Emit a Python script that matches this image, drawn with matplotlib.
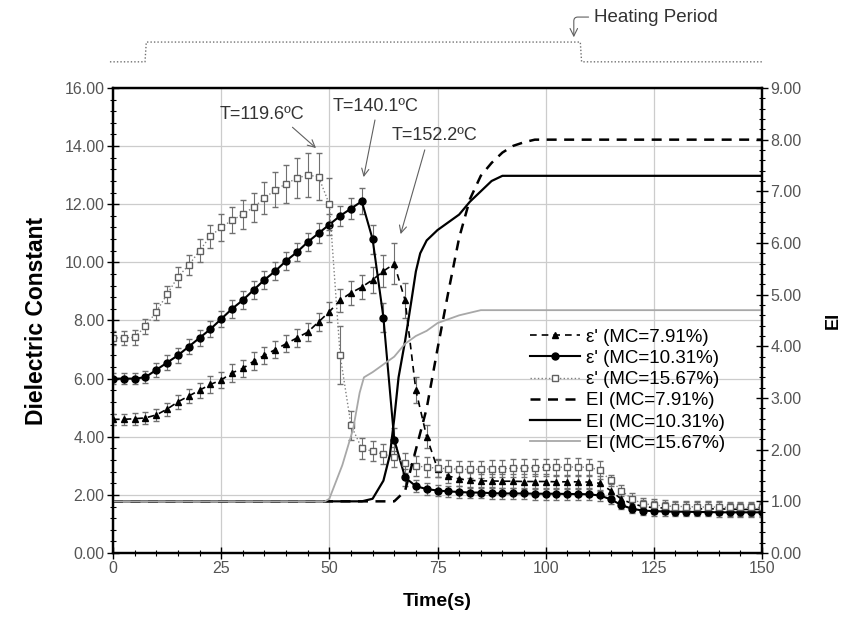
import numpy as np
import matplotlib
matplotlib.use("Agg")
import matplotlib.pyplot as plt
from matplotlib.ticker import MultipleLocator, FormatStrFormatter

plt.rcParams['font.family'] = ['Liberation Sans', 'DejaVu Sans']

# sampling times of the dielectric constant readings (s)
time = np.arange(0, 150.1, 2.5)

eps_791 = [4.60, 4.60, 4.62, 4.65, 4.75, 4.95, 5.20, 5.40, 5.60, 5.80,
           5.95, 6.20, 6.35, 6.60, 6.80, 7.00, 7.20, 7.40, 7.60, 7.95,
           8.30, 8.70, 8.95, 9.15, 9.40, 9.70, 9.95, 8.70, 5.60, 4.00,
           2.90, 2.65, 2.55, 2.50, 2.48, 2.48, 2.47, 2.47, 2.46, 2.46,
           2.46, 2.45, 2.45, 2.45, 2.44, 2.40, 2.15, 1.85, 1.70, 1.60,
           1.56, 1.55, 1.54, 1.53, 1.52, 1.52, 1.52, 1.51, 1.50, 1.50, 1.50]
err_791 = [0.20, 0.20, 0.20, 0.20, 0.22, 0.22, 0.25, 0.25, 0.25, 0.28,
           0.28, 0.30, 0.30, 0.30, 0.30, 0.30, 0.30, 0.30, 0.30, 0.32,
           0.35, 0.40, 0.40, 0.40, 0.45, 0.55, 0.70, 0.60, 0.45, 0.40,
           0.30, 0.25, 0.25, 0.25, 0.25, 0.25, 0.25, 0.25, 0.25, 0.25,
           0.25, 0.25, 0.25, 0.25, 0.25, 0.25, 0.22, 0.22, 0.22, 0.22,
           0.22, 0.22, 0.22, 0.22, 0.22, 0.22, 0.22, 0.22, 0.22, 0.22, 0.22]

eps_1031 = [6.00, 6.00, 6.00, 6.05, 6.30, 6.55, 6.80, 7.10, 7.40, 7.70,
            8.05, 8.40, 8.70, 9.05, 9.40, 9.70, 10.05, 10.35, 10.70, 11.00,
            11.30, 11.60, 11.85, 12.10, 10.80, 8.10, 3.90, 2.60, 2.30, 2.20,
            2.15, 2.12, 2.10, 2.08, 2.08, 2.06, 2.05, 2.05, 2.05, 2.04,
            2.04, 2.04, 2.03, 2.03, 2.02, 1.98, 1.85, 1.65, 1.52, 1.46,
            1.44, 1.43, 1.42, 1.42, 1.41, 1.41, 1.40, 1.40, 1.40, 1.40, 1.40]
err_1031 = [0.20, 0.20, 0.20, 0.20, 0.25, 0.25, 0.25, 0.25, 0.28, 0.28,
            0.28, 0.30, 0.30, 0.30, 0.30, 0.30, 0.32, 0.32, 0.32, 0.35,
            0.35, 0.35, 0.35, 0.45, 0.50, 0.50, 0.40, 0.30, 0.20, 0.20,
            0.20, 0.20, 0.20, 0.20, 0.20, 0.20, 0.20, 0.20, 0.20, 0.20,
            0.20, 0.20, 0.20, 0.20, 0.20, 0.20, 0.15, 0.15, 0.15, 0.15,
            0.15, 0.15, 0.15, 0.15, 0.15, 0.15, 0.15, 0.15, 0.15, 0.15, 0.15]

eps_1567 = [7.40, 7.40, 7.42, 7.80, 8.30, 8.90, 9.50, 9.90, 10.40, 10.90,
            11.20, 11.45, 11.65, 11.90, 12.20, 12.50, 12.70, 12.90, 13.00, 12.95,
            12.00, 6.80, 4.40, 3.60, 3.50, 3.40, 3.30, 3.10, 3.00, 2.95,
            2.92, 2.90, 2.88, 2.88, 2.88, 2.90, 2.90, 2.92, 2.92, 2.94,
            2.95, 2.95, 2.96, 2.96, 2.95, 2.85, 2.50, 2.15, 1.85, 1.70,
            1.65, 1.62, 1.60, 1.60, 1.58, 1.58, 1.58, 1.57, 1.57, 1.57, 1.57]
err_1567 = [0.25, 0.25, 0.25, 0.25, 0.30, 0.30, 0.35, 0.35, 0.40, 0.40,
            0.45, 0.45, 0.50, 0.50, 0.55, 0.60, 0.65, 0.70, 0.75, 0.80,
            0.90, 1.00, 0.50, 0.35, 0.35, 0.35, 0.35, 0.35, 0.35, 0.35,
            0.30, 0.30, 0.30, 0.30, 0.30, 0.30, 0.30, 0.30, 0.30, 0.30,
            0.30, 0.30, 0.30, 0.30, 0.30, 0.30, 0.20, 0.20, 0.20, 0.20,
            0.20, 0.20, 0.20, 0.20, 0.20, 0.20, 0.20, 0.20, 0.20, 0.20, 0.20]

# EI curves (right axis)
t_ei_791 = [0, 65, 67.5, 70, 72.5, 75, 77.5, 80, 82.5, 85, 87.5, 90, 92.5, 95, 97.5, 150]
ei_791 = [1.0, 1.0, 1.2, 2.0, 2.8, 3.95, 5.05, 6.1, 6.85, 7.3, 7.55, 7.75, 7.88, 7.95, 8.0, 8.0]

t_ei_1031 = [0, 57.5, 60, 62.5, 64, 65, 66, 67.5, 69, 70, 71, 72.5, 75, 77.5, 80, 82.5, 85, 87.5, 90, 150]
ei_1031 = [1.0, 1.0, 1.05, 1.4, 1.9, 2.6, 3.4, 4.1, 4.9, 5.45, 5.8, 6.05, 6.25, 6.4, 6.55, 6.8, 7.0, 7.2, 7.3, 7.3]

t_ei_1567 = [0, 49, 50, 53, 55.5, 57, 58, 60, 62.5, 65, 67.5, 70, 72.5, 75, 80, 85, 150]
ei_1567 = [1.0, 1.0, 1.05, 1.7, 2.4, 3.1, 3.4, 3.5, 3.65, 3.8, 4.05, 4.2, 4.3, 4.45, 4.6, 4.7, 4.7]

# heating on/off indicator drawn above the frame
t_heat = [-0.7, 7.4, 7.7, 108.0, 108.3, 150.2]
lvl_heat = [16.9, 16.9, 17.58, 17.58, 16.9, 16.9]

labels = ["\u03b5' (MC=7.91%)", "\u03b5' (MC=10.31%)", "\u03b5' (MC=15.67%)",
          "EI (MC=7.91%)", "EI (MC=10.31%)", "EI (MC=15.67%)"]

fig = plt.figure(figsize=(8.52, 6.28), dpi=100)
ax = fig.add_axes([0.1326, 0.1194, 0.7618, 0.7405])
ax2 = ax.twinx()

ecol = '#707070'
e1 = ax.errorbar(time, eps_791, yerr=err_791, fmt='^--', color='black', ms=5,
                 lw=1.2, dashes=(4, 3), ecolor=ecol, elinewidth=0.8, capsize=2.5, zorder=4)
e2 = ax.errorbar(time, eps_1031, yerr=err_1031, fmt='o-', color='black', ms=5,
                 lw=1.5, ecolor=ecol, elinewidth=0.8, capsize=2.5, zorder=4)
e3 = ax.errorbar(time, eps_1567, yerr=err_1567, fmt='s:', color='#808080', ms=5,
                 mfc='white', mec='#606060', lw=1.0, ecolor=ecol, elinewidth=0.8,
                 capsize=2.5, zorder=4)

l4, = ax2.plot(t_ei_791, ei_791, color='black', lw=1.8, ls=(0, (4, 3)))
l5, = ax2.plot(t_ei_1031, ei_1031, color='black', lw=1.6)
l6, = ax2.plot(t_ei_1567, ei_1567, color='#a8a8a8', lw=1.3)

ax.plot(t_heat, lvl_heat, color='#707070', lw=1.0, ls=(0, (1, 1.5)), clip_on=False)

ax.set_xlim(0, 150)
ax.set_ylim(0, 16)
ax2.set_ylim(0, 9)
ax.xaxis.set_major_locator(MultipleLocator(25))
ax.xaxis.set_minor_locator(MultipleLocator(5))
ax.yaxis.set_major_locator(MultipleLocator(2))
ax.yaxis.set_minor_locator(MultipleLocator(0.4))
ax2.yaxis.set_major_locator(MultipleLocator(1))
ax2.yaxis.set_minor_locator(MultipleLocator(0.2))
ax.yaxis.set_major_formatter(FormatStrFormatter('%.2f'))
ax2.yaxis.set_major_formatter(FormatStrFormatter('%.2f'))

ax.grid(True, which='major', color='#cccccc', lw=0.9)
ax.set_axisbelow(True)

for a in (ax, ax2):
    a.tick_params(which='major', direction='inout', length=8, width=1.0, pad=2,
                  labelsize=11.5, labelcolor='#555555')
    a.tick_params(which='minor', direction='inout', length=5, width=0.8)
    for s in a.spines.values():
        s.set_linewidth(1.6)

ax.set_xlabel('Time(s)', fontsize=14, fontweight='bold', labelpad=12)
ax.set_ylabel('Dielectric Constant', fontsize=16.5, fontweight='bold', labelpad=12)
ax2.set_ylabel('EI', fontsize=13, fontweight='bold', labelpad=17)

arrow = dict(arrowstyle='->', color='#606060', lw=0.8)
ax.annotate('T=119.6\u00baC', xy=(47.4, 13.87), xytext=(34.4, 15.1), fontsize=13,
            ha='center', va='center', color='#333333',
            arrowprops=dict(arrow, relpos=(0.8, 0.0)))
ax.annotate('T=140.1\u00baC', xy=(57.8, 12.84), xytext=(60.8, 15.38), fontsize=13,
            ha='center', va='center', color='#333333',
            arrowprops=dict(arrow, relpos=(0.5, 0.0)))
ax.annotate('T=152.2\u00baC', xy=(66.3, 10.88), xytext=(74.4, 14.35), fontsize=13,
            ha='center', va='center', color='#333333',
            arrowprops=dict(arrow, relpos=(0.4, 0.0)))
ax.annotate('Heating Period', xy=(106.5, 17.65), xytext=(111.2, 18.44), fontsize=13.5,
            ha='left', va='center', color='#333333', annotation_clip=False,
            arrowprops=dict(arrow, relpos=(0.0, 0.5),
                            connectionstyle='angle,angleA=180,angleB=90,rad=4'))

handles = [e1[0], e2[0], e3[0], l4, l5, l6]
fig.legend(handles, labels, loc='upper left', bbox_to_anchor=(522 / 852, 1 - 321 / 628),
           frameon=False, fontsize=13.5, handlelength=2.7, handletextpad=0.3,
           labelspacing=0.22, borderaxespad=0)

fig.savefig('out.png', dpi=100)
